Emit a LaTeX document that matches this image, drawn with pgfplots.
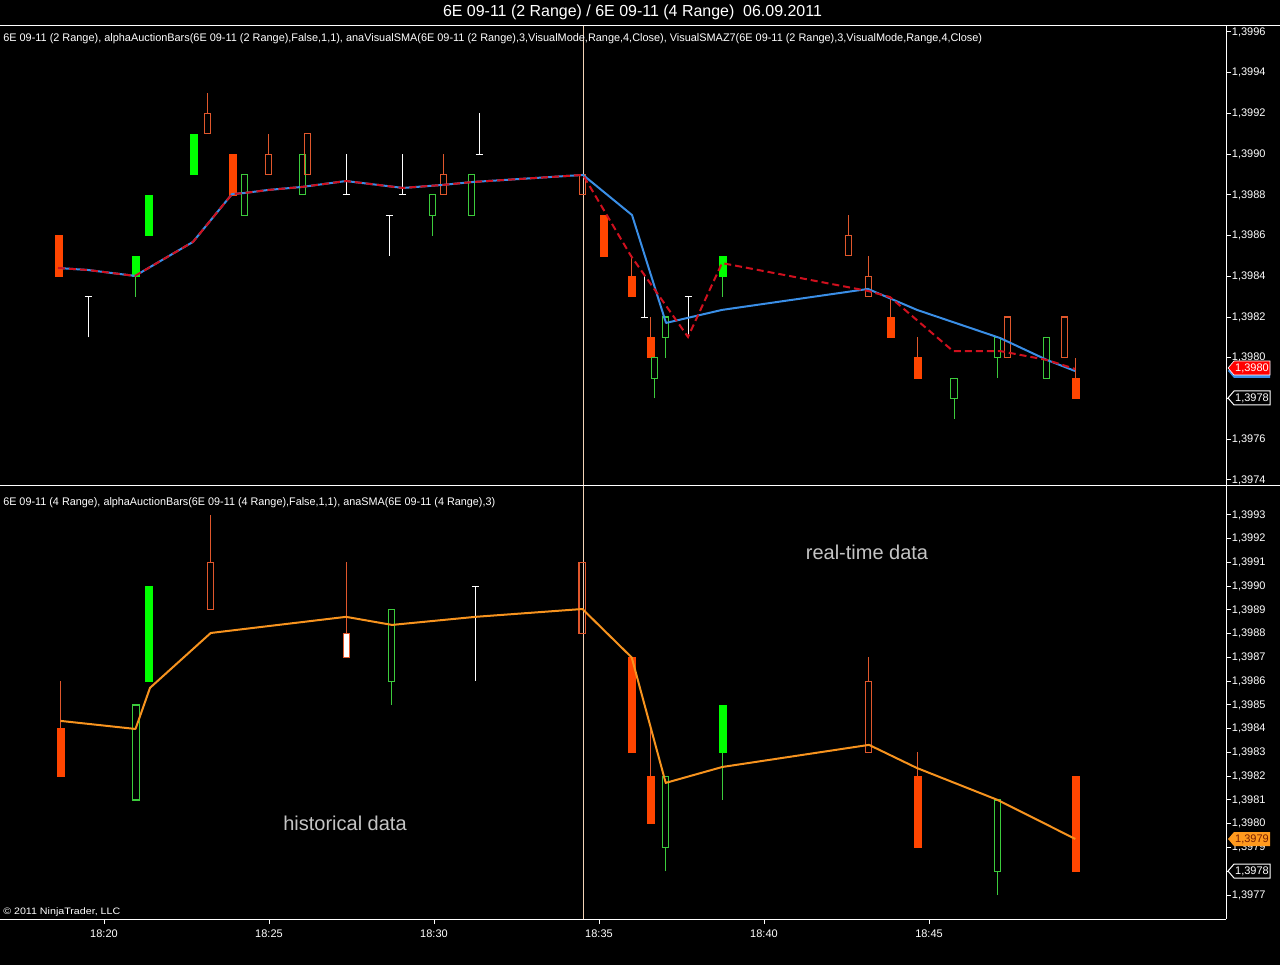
\documentclass[border=0pt]{standalone}
\usepackage{pgfplots}
\pgfplotsset{compat=1.18}
\usepackage{fontspec}
\setmainfont{Liberation Sans}
\usepackage{graphicx}

\definecolor{cr}{HTML}{FF4500}
\definecolor{cg}{HTML}{00FF00}
\definecolor{hr}{HTML}{E0572C}
\definecolor{hg}{HTML}{3CCB3C}
\definecolor{smab}{HTML}{3A8EE6}
\definecolor{smar}{HTML}{D0101E}
\definecolor{smao}{HTML}{F7931E}
\definecolor{sepc}{HTML}{F2D3B6}
\definecolor{txg}{HTML}{C4C4C4}
\definecolor{mko}{HTML}{FF9A1E}

\newlength\px \setlength\px{0.75pt}
\newcommand\fsm{\fontsize{8.25}{9}\selectfont}

\newcommand\BODY[4]{\pgfmathsetmacro\xa{#1-3.3}\pgfmathsetmacro\xb{#1+3.3}%
  \edef\tmp{\noexpand\addplot[#4] coordinates {(\xa,#2) (\xb,#2) (\xb,#3) (\xa,#3)} -- cycle;}\tmp}
\newcommand\CF[4]{\BODY{#1}{#2}{#3}{draw=#4,fill=#4,line width=0.4pt}}
\newcommand\CH[4]{\BODY{#1}{#2}{#3}{draw=#4,fill=none,line width=0.8pt}}
\newcommand\CWR[3]{\BODY{#1}{#2}{#3}{draw=hr,fill=white,line width=0.75pt}}
\newcommand\W[4]{\addplot[#4,line width=0.75pt] coordinates {(#1,#2) (#1,#3)};}
\newcommand\CAP[2]{\pgfmathsetmacro\xa{#1-3.5}\pgfmathsetmacro\xb{#1+3.5}%
  \edef\tmp{\noexpand\addplot[white,line width=0.75pt] coordinates {(\xa,#2) (\xb,#2)};}\tmp}

\pgfplotsset{ninja/.style={
  scale only axis, width=919.5pt, xmin=0, xmax=1226,
  anchor=south west,
  axis line style={draw=none},
  tick align=outside,
  major tick length=3.75pt,
  every tick/.style={white, line width=0.75pt},
  ytick pos=right, yticklabel pos=right,
  yticklabel style={font=\fsm, text=white, anchor=west, inner sep=0pt, xshift=0.5pt},
  xticklabel style={font=\fsm, text=white, anchor=north, inner sep=0pt, yshift=-4pt},
}}

\begin{document}
\begin{tikzpicture}
\path[use as bounding box] (0,0) rectangle (960pt,723.75pt);
\fill[black] (0,0) rectangle (960pt,723.75pt);

% ---------------- top panel ----------------
\begin{axis}[ninja, at={(0pt,360pt)}, height=344.25pt,
  ymin=1.397375, ymax=1.3996295, xtick=\empty,
  ytick={1.3974,1.3976,1.3978,1.3980,1.3982,1.3984,1.3986,1.3988,1.3990,1.3992,1.3994,1.3996},
  yticklabels={{1,3974},{1,3976},{},{1,3980},{1,3982},{1,3984},{1,3986},{1,3988},{1,3990},{1,3992},{1,3994},{1,3996}}]
\addplot[sepc, line width=0.75pt] coordinates {(583,1.3970) (583,1.4000)};
\CF{58.5}{1.3984}{1.3986}{cr}
\W{88}{1.3981}{1.3983}{white} \CAP{88}{1.3983}
\W{135.5}{1.3983}{1.3984}{hg} \CF{135.5}{1.3984}{1.3985}{cg}
\CF{148.5}{1.3986}{1.3988}{cg}
\CF{193.5}{1.3989}{1.3991}{cg}
\W{207.5}{1.3992}{1.3993}{hr} \CH{207.5}{1.3991}{1.3992}{hr}
\CF{232.5}{1.3988}{1.3990}{cr}
\CH{244.5}{1.3987}{1.3989}{hg}
\W{268.5}{1.3990}{1.3991}{hr} \CH{268.5}{1.3989}{1.3990}{hr}
\CH{302.5}{1.3988}{1.3990}{hg}
\CH{307.5}{1.3989}{1.3991}{hr}
\W{346}{1.3988}{1.3990}{white} \CAP{346}{1.3988}
\W{389}{1.3985}{1.3987}{white} \CAP{389}{1.3987}
\W{402}{1.3988}{1.3990}{white} \CAP{402}{1.3988}
\W{432.5}{1.3986}{1.3987}{hg} \CH{432.5}{1.3987}{1.3988}{hg}
\W{443.5}{1.3989}{1.3990}{hr} \CH{443.5}{1.3988}{1.3989}{hr}
\CH{471.5}{1.3987}{1.3989}{hg}
\W{479}{1.3990}{1.3992}{white} \CAP{479}{1.3990}
\CH{582.5}{1.3988}{1.3989}{hr}
\CF{603.5}{1.3985}{1.3987}{cr}
\W{631.5}{1.3984}{1.3985}{hr} \CF{631.5}{1.3983}{1.3984}{cr}
\W{644}{1.3982}{1.3984}{white} \CAP{644}{1.3982}
\W{650.5}{1.3981}{1.3982}{hr} \CF{650.5}{1.3980}{1.3981}{cr}
\W{654.5}{1.3978}{1.3979}{hg} \CH{654.5}{1.3979}{1.3980}{hg}
\W{665.5}{1.3980}{1.3981}{hg} \CH{665.5}{1.3981}{1.3982}{hg}
\W{688}{1.3981}{1.3983}{white} \CAP{688}{1.3983}
\W{722.5}{1.3983}{1.3984}{hg} \CF{722.5}{1.3984}{1.3985}{cg}
\W{848.5}{1.3986}{1.3987}{hr} \CH{848.5}{1.3985}{1.3986}{hr}
\W{868.5}{1.3984}{1.3985}{hr} \CH{868.5}{1.3983}{1.3984}{hr}
\W{890.5}{1.3982}{1.3983}{hr} \CF{890.5}{1.3981}{1.3982}{cr}
\W{917.5}{1.3980}{1.3981}{hr} \CF{917.5}{1.3979}{1.3980}{cr}
\W{954}{1.3977}{1.3978}{hg} \CH{954}{1.3978}{1.3979}{hg}
\W{997.5}{1.3979}{1.3980}{hg} \CH{997.5}{1.3980}{1.3981}{hg}
\CH{1007.5}{1.3980}{1.3982}{hr}
\CH{1046.5}{1.3979}{1.3981}{hg}
\CH{1064.5}{1.3980}{1.3982}{hr}
\W{1075.5}{1.3979}{1.3980}{hr} \CF{1075.5}{1.3978}{1.3979}{cr}
% SMA lines
\addplot[smab, line width=1.5pt, line join=round] coordinates {
(58,1.398441)(88,1.398431)(135,1.398402)(193,1.398569)(232,1.398804)(244,1.398809)
(268,1.398824)(302,1.398839)(346,1.398868)(403,1.398834)(443,1.398849)(472,1.398863)
(583,1.398898)(632,1.398701)(666,1.398171)(722,1.398235)(868,1.398338)(917,1.398235)
(1000,1.398097)(1047,1.397989)(1075,1.397935)};
\addplot[smar, line width=1.5pt, dash pattern=on 5.25pt off 3pt] coordinates {
(58,1.398441)(88,1.398431)(135,1.398402)(193,1.398569)(232,1.398804)(244,1.398809)
(268,1.398824)(302,1.398839)(346,1.398868)(403,1.398834)(443,1.398849)(472,1.398863)
(583,1.398898)(631,1.398500)(688,1.398102)(722,1.398465)(868,1.398328)(890,1.398298)
(953,1.398033)(1000,1.398033)(1047,1.397989)(1075,1.397945)};
\end{axis}

% ---------------- bottom panel ----------------
\begin{axis}[ninja, at={(0pt,34.5pt)}, height=325.5pt,
  ymin=1.397599, ymax=1.399426,
  xtick pos=left,
  xtick={104,269,434,599,764,929},
  xticklabels={18:20,18:25,18:30,18:35,18:40,18:45},
  ytick={1.3977,1.3978,1.3979,1.3980,1.3981,1.3982,1.3983,1.3984,1.3985,1.3986,1.3987,1.3988,1.3989,1.3990,1.3991,1.3992,1.3993},
  yticklabels={{1,3977},{},{1,3979},{1,3980},{1,3981},{1,3982},{1,3983},{1,3984},{1,3985},{1,3986},{1,3987},{1,3988},{1,3989},{1,3990},{1,3991},{1,3992},{1,3993}}]
\addplot[sepc, line width=0.75pt] coordinates {(583,1.3970) (583,1.4000)};
\W{60.5}{1.3984}{1.3986}{hr} \CF{60.5}{1.3982}{1.3984}{cr}
\CH{136}{1.3981}{1.3985}{hg}
\CF{149}{1.3986}{1.3990}{cg}
\W{210.5}{1.3991}{1.3993}{hr} \CH{210.5}{1.3989}{1.3991}{hr}
\W{346.5}{1.3988}{1.3991}{hr} \CWR{346.5}{1.3987}{1.3988}
\W{391.5}{1.3985}{1.3986}{hg} \CH{391.5}{1.3986}{1.3989}{hg}
\W{475.5}{1.3986}{1.3990}{white} \CAP{475.5}{1.3990}
\CH{582.3}{1.3988}{1.3991}{hr}
\CF{631.5}{1.3983}{1.3987}{cr}
\W{650.5}{1.3982}{1.3984}{hr} \CF{650.5}{1.3980}{1.3982}{cr}
\W{665.5}{1.3978}{1.3979}{hg} \CH{665.5}{1.3979}{1.3982}{hg}
\W{722.5}{1.3981}{1.3983}{hg} \CF{722.5}{1.3983}{1.3985}{cg}
\W{868.5}{1.3986}{1.3987}{hr} \CH{868.5}{1.3983}{1.3986}{hr}
\W{917.5}{1.3982}{1.3983}{hr} \CF{917.5}{1.3979}{1.3982}{cr}
\W{997.5}{1.3977}{1.3978}{hg} \CH{997.5}{1.3978}{1.3981}{hg}
\CF{1075.5}{1.3978}{1.3982}{cr}
\addplot[smao, line width=1.5pt, line join=round] coordinates {
(60.5,1.398433)(135.5,1.398399)(150,1.398572)(210.7,1.398803)(346,1.398871)(392,1.398837)
(475.5,1.398871)(582.4,1.398904)(631.7,1.398700)(665.7,1.398172)(722.3,1.398239)(869,1.398332)
(916.7,1.398235)(997.7,1.398100)(1075.3,1.397936)};
\end{axis}

% ---------------- frame, texts, markers (pixel frame) ----------------
\begin{scope}[x=0.75pt, y=-0.75pt, shift={(0pt,723.75pt)}]
\draw[white, line width=0.75pt] (0,26) -- (1280,26);
\draw[white, line width=0.75pt] (0,485) -- (1280,485);
\draw[white, line width=0.75pt] (0,919) -- (1226,919);
\draw[white, line width=0.75pt] (1226,26) -- (1226,919);

\node[anchor=center, text=white, inner sep=0pt] at (632.5,12)
  {\resizebox{379\px}{\height}{\fontsize{12}{14}\selectfont 6E 09-11 (2 Range) / 6E 09-11 (4 Range)\ \ 06.09.2011}};
\node[anchor=west, text=white, inner sep=0pt] at (3,39)
  {\resizebox{979\px}{\height}{\fsm 6E 09-11 (2 Range), alphaAuctionBars(6E 09-11 (2 Range),False,1,1), anaVisualSMA(6E 09-11 (2 Range),3,VisualMode,Range,4,Close), VisualSMAZ7(6E 09-11 (2 Range),3,VisualMode,Range,4,Close)}};
\node[anchor=west, text=white, inner sep=0pt] at (3,503)
  {\resizebox{492\px}{\height}{\fsm 6E 09-11 (4 Range), alphaAuctionBars(6E 09-11 (4 Range),False,1,1), anaSMA(6E 09-11 (4 Range),3)}};
\node[anchor=west, text=white, inner sep=0pt] at (3,912)
  {\resizebox{117\px}{\height}{\fontsize{7}{8}\selectfont \textcopyright{} 2011 NinjaTrader, LLC}};

\node[text=txg, inner sep=0pt, font=\fontsize{15}{18}\selectfont] at (345,823) {historical data};
\node[text=txg, inner sep=0pt, font=\fontsize{15}{18}\selectfont] at (867,552) {real-time data};

% price markers
\fill[smab] (1228,371) -- (1234,364) -- (1270,364) -- (1270,378) -- (1234,378) -- cycle;
\filldraw[fill=red, draw=white, line width=0.5pt] (1228,368) -- (1234,361) -- (1270,361) -- (1270,375) -- (1234,375) -- cycle;
\node[text=white, inner sep=0pt, font=\fsm] at (1252,368) {1,3980};
\filldraw[fill=black, draw=white, line width=0.75pt] (1228,398) -- (1234,391) -- (1270,391) -- (1270,405) -- (1234,405) -- cycle;
\node[text=white, inner sep=0pt, font=\fsm] at (1252,398) {1,3978};
\fill[mko] (1228,839) -- (1234,832) -- (1270,832) -- (1270,846) -- (1234,846) -- cycle;
\node[text={rgb,255:red,120;green,30;blue,0}, inner sep=0pt, font=\fsm] at (1252,839) {1,3979};
\filldraw[fill=black, draw=white, line width=0.75pt] (1228,871) -- (1234,864) -- (1270,864) -- (1270,878) -- (1234,878) -- cycle;
\node[text=white, inner sep=0pt, font=\fsm] at (1252,871) {1,3978};
\end{scope}
\end{tikzpicture}
\end{document}
